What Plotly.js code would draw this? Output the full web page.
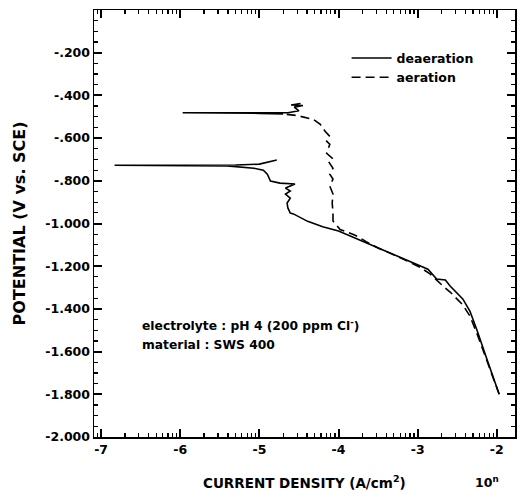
<!DOCTYPE html>
<html>
<head>
<meta charset="utf-8">
<script src="https://cdn.plot.ly/plotly-3.0.1.min.js"></script>
<style>html,body{margin:0;padding:0;background:#fff;}#chart{width:520px;height:494px;}</style>
</head>
<body>
<div id="chart"></div>
<script>
// log10 of current density (A/cm^2) and potential (V vs. SCE)
var deaerationLogI = [-1.97, -2.05, -2.13, -2.25, -2.34, -2.43, -2.59, -2.65, -2.76, -2.87, -3.10, -3.26, -3.50, -3.75, -4.00, -4.20, -4.39, -4.57, -4.61, -4.64, -4.65, -4.61, -4.67, -4.61, -4.67, -4.55, -4.74, -4.86, -4.90, -4.95, -5.07, -5.41, -6.00, -6.83, -6.00, -5.30, -5.00, -4.78];
var deaerationE    = [-1.80, -1.72, -1.63, -1.50, -1.41, -1.353, -1.293, -1.265, -1.26, -1.214, -1.177, -1.153, -1.115, -1.075, -1.035, -1.015, -0.99, -0.955, -0.951, -0.927, -0.904, -0.881, -0.862, -0.848, -0.834, -0.815, -0.811, -0.801, -0.769, -0.750, -0.741, -0.730, -0.728, -0.727, -0.727, -0.726, -0.722, -0.703];

var aerationLogI = [-1.97, -2.13, -2.25, -2.34, -2.43, -2.59, -2.68, -2.84, -2.97, -3.26, -3.50, -3.65, -3.79, -3.98, -4.07, -4.07, -4.08, -4.07, -4.11, -4.07, -4.11, -4.07, -4.13, -4.08, -4.15, -4.11, -4.15, -4.11, -4.17, -4.23, -4.32, -4.53, -4.70];
var aerationE    = [-1.80, -1.633, -1.516, -1.433, -1.381, -1.321, -1.293, -1.237, -1.205, -1.153, -1.115, -1.085, -1.055, -1.028, -0.988, -0.951, -0.904, -0.862, -0.825, -0.792, -0.769, -0.741, -0.708, -0.694, -0.671, -0.629, -0.615, -0.592, -0.568, -0.536, -0.512, -0.494, -0.487];
// corrosion-potential segment of the aeration scan (drawn solid in the original)
var aerationEcorrLogI = [-4.70, -5.00, -5.97, -5.00, -4.70, -4.64, -4.50, -4.56, -4.45, -4.60, -4.48];
var aerationEcorrE    = [-0.487, -0.484, -0.481, -0.481, -0.478, -0.481, -0.472, -0.455, -0.447, -0.445, -0.438];

var xTickVals = [-7, -6, -5, -4, -3, -2];
var xTickText = ['-7', '-6', '-5', '-4', '-3', '-2'];
var yTickVals = [-0.2, -0.4, -0.6, -0.8, -1.0, -1.2, -1.4, -1.6, -1.8, -2.0];
var yTickText = ['-.200', '-.400', '-.600', '-.800', '-1.000', '-1.200', '-1.400', '-1.600', '-1.800', '-2.000'];

var X_RANGE = [-7.09, -1.77];
var Y_RANGE = [-2.0, 0.0];

// minor ticks: logarithmic within each decade on x, every 0.05 V on y
var minorX = [];
for (var n = -8; n <= -2; n++) { for (var k = 2; k <= 9; k++) minorX.push(n + Math.log10(k)); }
var minorY = [];
for (var m = 1; m <= 40; m++) { if (m % 4 !== 0) minorY.push(-m * 0.05); }

var FONT = 'DejaVu Sans, Arial, sans-serif';
var TICK = 'black';

var traces = [
  {x: deaerationLogI, y: deaerationE, mode: 'lines', name: 'deaeration',
   line: {color: 'black', width: 1.6}},
  {x: aerationLogI, y: aerationE, mode: 'lines', name: 'aeration',
   line: {color: 'black', width: 1.6, dash: '9px,5px'}},
  {x: aerationEcorrLogI, y: aerationEcorrE, mode: 'lines', name: 'aeration',
   showlegend: false, line: {color: 'black', width: 1.6}},
  // empty carriers for the minor-tick axes
  {x: [], y: [], xaxis: 'x2', yaxis: 'y', showlegend: false, hoverinfo: 'skip'},
  {x: [], y: [], xaxis: 'x', yaxis: 'y2', showlegend: false, hoverinfo: 'skip'}
];

var layout = {
  width: 520, height: 494,
  margin: {l: 94, r: 5, t: 10, b: 57},
  paper_bgcolor: 'white', plot_bgcolor: 'white',
  font: {family: FONT, color: 'black'},
  xaxis: {range: X_RANGE, tickmode: 'array', tickvals: xTickVals, ticktext: xTickText,
    ticks: 'inside', ticklen: 8, tickwidth: 2, tickcolor: TICK, mirror: 'ticks',
    showline: true, linecolor: 'black', linewidth: 1.5, showgrid: false, zeroline: false,
    tickfont: {family: FONT, size: 12.5, color: 'black', weight: 'bold'}},
  yaxis: {range: Y_RANGE, tickmode: 'array', tickvals: yTickVals, ticktext: yTickText,
    ticks: 'inside', ticklen: 8, tickwidth: 2, tickcolor: TICK, mirror: 'ticks',
    showline: true, linecolor: 'black', linewidth: 1.5, showgrid: false, zeroline: false,
    tickfont: {family: FONT, size: 12.5, color: 'black', weight: 'bold'}},
  xaxis2: {overlaying: 'x', anchor: 'y', side: 'bottom', range: X_RANGE,
    tickmode: 'array', tickvals: minorX, showticklabels: false,
    ticks: 'inside', ticklen: 4, tickwidth: 1.2, tickcolor: TICK, mirror: 'allticks',
    showline: false, showgrid: false, zeroline: false},
  yaxis2: {overlaying: 'y', anchor: 'x', side: 'left', range: Y_RANGE,
    tickmode: 'array', tickvals: minorY, showticklabels: false,
    ticks: 'inside', ticklen: 4, tickwidth: 1.2, tickcolor: TICK, mirror: 'allticks',
    showline: true, linecolor: 'black', showgrid: false, zeroline: false},
  showlegend: true,
  legend: {x: 0.6, y: 0.922, xanchor: 'left', yanchor: 'top', bgcolor: 'rgba(0,0,0,0)',
           itemwidth: 40, tracegroupgap: 0,
           font: {family: FONT, size: 12.5, color: 'black', weight: 'bold'}},
  annotations: [
    {text: 'POTENTIAL (V vs. SCE)', xref: 'paper', yref: 'paper', x: -0.176, y: 0.5,
     textangle: -90, showarrow: false, xanchor: 'center', yanchor: 'middle',
     font: {family: FONT, size: 16, color: 'black', weight: 'bold'}},
    {text: 'CURRENT DENSITY (A/cm<sup>2</sup>)', xref: 'paper', yref: 'paper', x: 0.5, y: -0.105,
     showarrow: false, xanchor: 'center', yanchor: 'middle',
     font: {family: FONT, size: 13.5, color: 'black', weight: 'bold'}},
    {text: '10<sup>n</sup>', xref: 'paper', yref: 'paper', x: 0.934, y: -0.105,
     showarrow: false, xanchor: 'center', yanchor: 'middle',
     font: {family: FONT, size: 12.5, color: 'black', weight: 'bold'}},
    {text: 'electrolyte : pH 4 (200 ppm Cl<sup>-</sup>)', xref: 'paper', yref: 'paper', x: 0.109, y: 0.262,
     showarrow: false, xanchor: 'left', yanchor: 'middle',
     font: {family: FONT, size: 12.3, color: 'black', weight: 'bold'}},
    {text: 'material : SWS 400', xref: 'paper', yref: 'paper', x: 0.109, y: 0.215,
     showarrow: false, xanchor: 'left', yanchor: 'middle',
     font: {family: FONT, size: 12.3, color: 'black', weight: 'bold'}}
  ]
};

Plotly.newPlot('chart', traces, layout, {displayModeBar: false, staticPlot: true});
</script>
</body>
</html>
